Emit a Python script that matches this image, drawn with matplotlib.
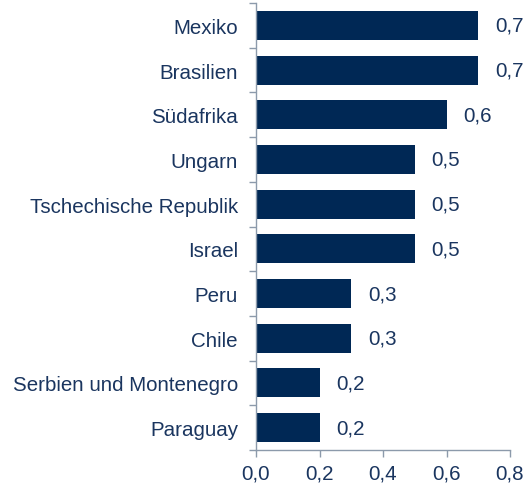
import matplotlib
matplotlib.use("Agg")
import matplotlib.pyplot as plt
import numpy as np

categories = ["Mexiko", "Brasilien", "Südafrika", "Ungarn", "Tschechische Republik",
              "Israel", "Peru", "Chile", "Serbien und Montenegro", "Paraguay"]
values = [0.7, 0.7, 0.6, 0.5, 0.5, 0.5, 0.3, 0.3, 0.2, 0.2]
xticks = [0.0, 0.2, 0.4, 0.6, 0.8]

plt.rcParams['font.family'] = ['Liberation Sans', 'DejaVu Sans']
bar_color = "#002855"
text_color = "#1a355f"
axis_color = "#8c9aab"
fs = 14.8

fig = plt.figure(figsize=(5.26, 4.85), dpi=100)
ax = fig.add_axes([256/526, 34/485, 254/526, 447/485])

y = np.arange(len(categories))[::-1]
ax.barh(y, values, height=0.65, color=bar_color)
for yi, v in zip(y, values):
    ax.text(v + 0.052, yi, f"{v:.1f}".replace(".", ","), va="center", ha="left",
            fontsize=fs, color=text_color)

ax.set_xlim(0, 0.8)
ax.set_ylim(-0.5, len(categories) - 0.5)
ax.set_xticks(xticks)
ax.set_xticklabels([f"{t:.1f}".replace(".", ",") for t in xticks], fontsize=fs, color=text_color)
ax.set_yticks(y)
ax.set_yticklabels(categories, fontsize=fs, color=text_color)
ax.set_yticks(np.arange(-0.5, len(categories), 1.0), minor=True)
ax.tick_params(axis="y", which="major", length=0, pad=13)
ax.tick_params(axis="y", which="minor", length=5, color=axis_color, width=1)
ax.tick_params(axis="x", length=5, color=axis_color, width=1, pad=5)
for s in ["top", "right"]:
    ax.spines[s].set_visible(False)
for s in ["left", "bottom"]:
    ax.spines[s].set_color(axis_color)
    ax.spines[s].set_linewidth(1)

fig.savefig("out.png", dpi=100)
